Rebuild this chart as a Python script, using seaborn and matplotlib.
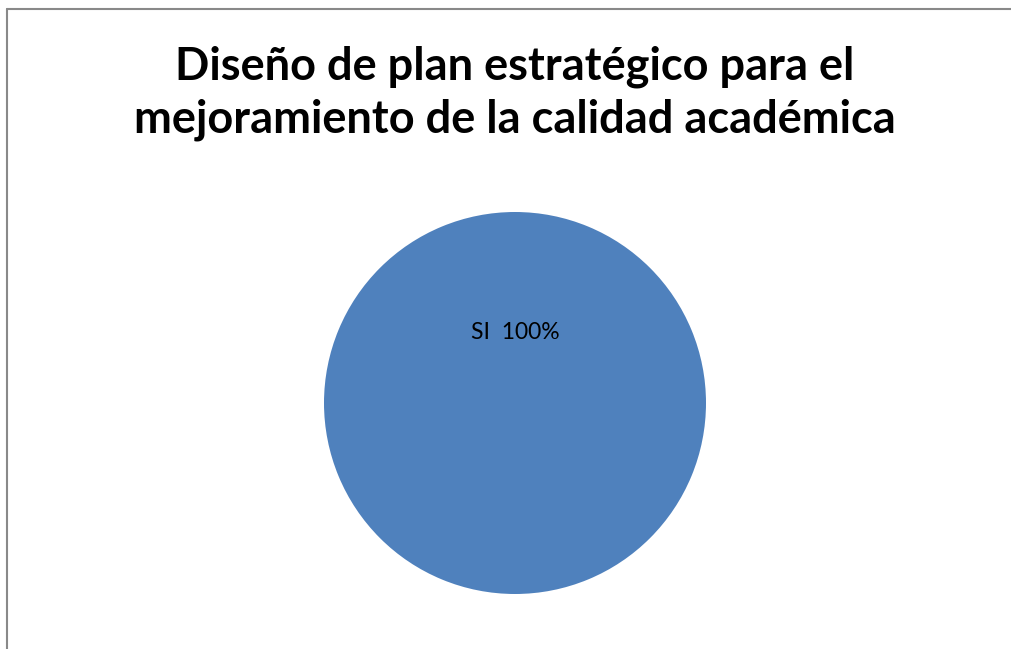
import matplotlib
matplotlib.use("Agg")
import matplotlib.pyplot as plt
import seaborn as sns
from matplotlib.lines import Line2D

# === Data ===
labels = ["SI"]
values = [100]
title = "Diseño de plan estratégico para el\nmejoramiento de la calidad académica"

sns.set_theme(style="white")
plt.rcParams['font.family'] = ['Lato', 'DejaVu Sans']
colors = ["#4F81BD"]

W, H = 1012, 649
fig = plt.figure(figsize=(W / 100, H / 100), dpi=100)

# pie axes: center (515, 403), radius ~191 px
cx, cy, r = 515, 403, 191
ax = fig.add_axes([(cx - r) / W, 1 - (cy + r) / H, 2 * r / W, 2 * r / H])
wedges, _ = ax.pie(values, colors=colors, startangle=90, counterclock=False,
                   wedgeprops=dict(linewidth=0))
ax.set_aspect('equal')
ax.set_xlim(-1, 1)
ax.set_ylim(-1, 1)
ax.axis('off')

# data label
total = sum(values)
for lab, v in zip(labels, values):
    ax.text(0.0, 0.37, f"{lab}  {v / total * 100:.0f}%", ha='center', va='center',
            fontsize=16.5, color='black')

fig.text(cx / W, 1 - 93 / H, title, ha='center', va='center', fontsize=32.5,
         fontweight='bold', color='black', linespacing=1.3)

# chart border (only left and top visible)
fig.add_artist(Line2D([7.5 / W, 7.5 / W], [0, 1 - 9 / H], transform=fig.transFigure,
                      color='#898989', linewidth=1.5))
fig.add_artist(Line2D([7.5 / W, 1], [1 - 9 / H, 1 - 9 / H], transform=fig.transFigure,
                      color='#898989', linewidth=1.5))

fig.savefig("out.png", dpi=100)
